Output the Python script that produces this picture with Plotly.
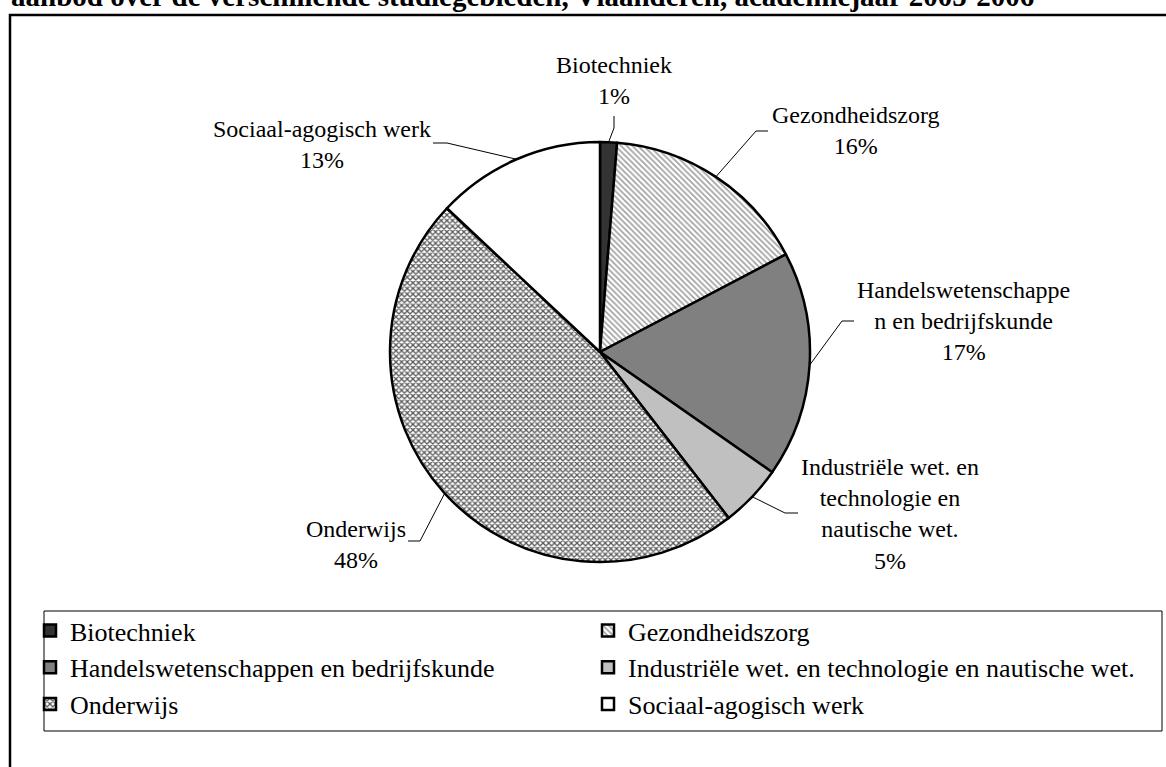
import math
import plotly.graph_objects as go

W, H = 1166, 767

# ---------------- data ----------------
categories = [
    "Biotechniek",
    "Gezondheidszorg",
    "Handelswetenschappen en bedrijfskunde",
    "Industriële wet. en technologie en nautische wet.",
    "Onderwijs",
    "Sociaal-agogisch werk",
]
values = [1.3, 16.0, 17.4, 4.8, 47.5, 13.0]
label_text = [
    "Biotechniek",
    "Gezondheidszorg",
    "Handelswetenschappe<br>n en bedrijfskunde",
    "Industriële wet. en<br>technologie en<br>nautische wet.",
    "Onderwijs",
    "Sociaal-agogisch werk",
]
title_text = "aanbod over de verschillende studiegebieden, Vlaanderen, academiejaar 2005-2006"

# ---------------- styles ----------------
fill_colors = ["#333333", "#ffffff", "#808080", "#c0c0c0", "#ffffff", "#ffffff"]
pattern_shapes = ["", "\\", "", "", "x", ""]
pattern_fg = ["#333333", "#a0a0a0", "#808080", "#c0c0c0", "#5a5a5a", "#ffffff"]
pattern_size = [4, 4, 4, 4, 4, 4]
pattern_solidity = [0.5, 0.4, 0.5, 0.5, 0.55, 0.5]
FONT = "Liberation Serif, Times New Roman, serif"

# ---------------- layout (pixels) ----------------
CX, CY, R = 600, 352, 210
label_pos = [(614, 81), (856, 131), (963, 321), (890, 514), (356, 544), (322, 144)]
leader_elbow = [(614, 128), (756, 131), (842, 321), (785, 513), (420, 541), (447, 143)]
leader_end = [(614, 116), (768, 131), (854, 321), (798, 513), (408, 541), (433, 143)]


def px(x):
    return x / W


def py(y):
    return 1 - y / H


fig = go.Figure()
fig.add_trace(
    go.Pie(
        labels=categories,
        values=values,
        sort=False,
        direction="clockwise",
        rotation=0,
        textinfo="none",
        hoverinfo="label+percent",
        marker=dict(
            colors=fill_colors,
            line=dict(color="black", width=2.5),
            pattern=dict(
                shape=pattern_shapes,
                fgcolor=pattern_fg,
                bgcolor="white",
                size=pattern_size,
                solidity=pattern_solidity,
            ),
        ),
        domain=dict(x=[px(CX - R), px(CX + R)], y=[py(CY + R), py(CY - R)]),
    )
)

total = sum(values)
annotations = []
shapes = []
cum = 0.0
for i, v in enumerate(values):
    mid = (cum + v / 2) / total * 2 * math.pi
    cum += v
    ex = CX + R * math.sin(mid)
    ey = CY - R * math.cos(mid)
    pct = f"{round(v / total * 100)}%"
    lx, ly = label_pos[i]
    annotations.append(
        dict(
            x=px(lx), y=py(ly), xref="paper", yref="paper",
            text=label_text[i] + "<br>" + pct,
            showarrow=False, xanchor="center", yanchor="middle",
            font=dict(family=FONT, size=24, color="black"),
            align="center",
        )
    )
    bx, by = leader_elbow[i]
    tx, ty = leader_end[i]
    shapes.append(
        dict(
            type="path", xref="paper", yref="paper",
            path=f"M {px(ex)} {py(ey)} L {px(bx)} {py(by)} L {px(tx)} {py(ty)}",
            line=dict(color="black", width=1),
        )
    )

# title (cut off at the top of the page, as in the source)
annotations.append(
    dict(
        x=px(9), y=py(-4), xref="paper", yref="paper",
        text="<b>" + title_text + "</b>",
        showarrow=False, xanchor="left", yanchor="middle",
        font=dict(family=FONT, size=29, color="black"),
    )
)

# outer frame
shapes.append(
    dict(type="rect", xref="paper", yref="paper",
         x0=px(10), x1=px(W + 10), y0=py(H + 10), y1=py(15),
         line=dict(color="black", width=2.5), fillcolor="rgba(0,0,0,0)", layer="below")
)
# legend box
shapes.append(
    dict(type="rect", xref="paper", yref="paper",
         x0=px(44), x1=px(1162), y0=py(731), y1=py(611),
         line=dict(color="black", width=1), fillcolor="white", layer="below")
)

fig.update_layout(
    width=W, height=H,
    margin=dict(l=0, r=0, t=0, b=0),
    paper_bgcolor="white",
    plot_bgcolor="white",
    annotations=annotations,
    shapes=shapes,
    showlegend=True,
    legend=dict(
        orientation="h",
        x=px(30), y=py(607), xanchor="left", yanchor="top",
        bgcolor="rgba(0,0,0,0)", borderwidth=0,
        font=dict(family=FONT, size=26, color="black"),
        entrywidth=513, entrywidthmode="pixels",
        traceorder="normal",
    ),
)

fig.write_html(
    "out.html",
    config={"displayModeBar": False},
    post_script="document.body.style.margin='0';",
)
